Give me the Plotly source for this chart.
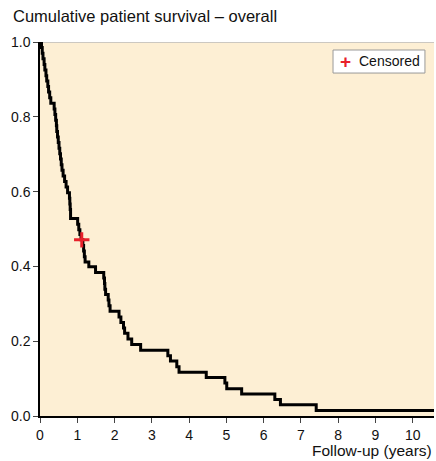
import plotly.graph_objects as go

# Kaplan-Meier step points (years, survival)
time = [0.0, 0.04, 0.06, 0.08, 0.11, 0.13, 0.16, 0.18, 0.21, 0.23, 0.26, 0.29,
        0.38, 0.40, 0.42, 0.44, 0.45, 0.47, 0.49, 0.51, 0.53, 0.55, 0.57, 0.59,
        0.62, 0.66, 0.70, 0.74, 0.79, 0.80, 0.81, 0.82,
        1.01, 1.04, 1.07, 1.10, 1.15, 1.17, 1.19, 1.21, 1.31, 1.49,
        1.71, 1.73, 1.74, 1.76, 1.83, 1.85, 1.88, 2.12, 2.17, 2.24, 2.27,
        2.36, 2.46, 2.70, 3.43, 3.50, 3.67, 3.73, 4.46, 4.96, 5.01, 5.41,
        6.30, 6.45, 7.41, 10.57]
survival = [1.0, 0.985, 0.970, 0.955, 0.940, 0.925, 0.910, 0.896, 0.881, 0.866, 0.851, 0.836,
            0.821, 0.806, 0.791, 0.776, 0.761, 0.746, 0.731, 0.716, 0.701, 0.687, 0.672, 0.657,
            0.642, 0.627, 0.612, 0.597, 0.582, 0.567, 0.552, 0.528,
            0.513, 0.498, 0.485, 0.471, 0.456, 0.441, 0.426, 0.412, 0.399, 0.384,
            0.369, 0.354, 0.339, 0.325, 0.310, 0.295, 0.280, 0.265, 0.250, 0.235, 0.221,
            0.206, 0.191, 0.176, 0.161, 0.147, 0.132, 0.117, 0.103, 0.088, 0.073, 0.059,
            0.044, 0.030, 0.015, 0.015]

censor_time = [1.12]
censor_surv = [0.471]

x_ticks = [0, 1, 2, 3, 4, 5, 6, 7, 8, 9, 10]
y_ticks = [0.0, 0.2, 0.4, 0.6, 0.8, 1.0]
y_tick_labels = ["0.0", "0.2", "0.4", "0.6", "0.8", "1.0"]

FONT = "Liberation Sans, Arial, Helvetica, sans-serif"
RED = "#e8202a"

fig = go.Figure()
fig.add_trace(go.Scatter(
    x=time, y=survival, mode="lines", line=dict(color="black", width=3, shape="hv"),
    showlegend=False, hoverinfo="skip"))
fig.add_trace(go.Scatter(
    x=censor_time, y=censor_surv, mode="markers", name="Censored", showlegend=False,
    marker=dict(symbol="cross-thin", size=11, line=dict(color=RED, width=3), color=RED)))

fig.update_layout(
    width=436, height=461,
    margin=dict(l=40, r=2, t=42, b=45),
    paper_bgcolor="white", plot_bgcolor="#FDEFD4",
    font=dict(family=FONT, size=13, color="#111"),
    xaxis=dict(range=[0, 10.57], tickvals=x_ticks, ticks="outside", ticklen=5,
               tickcolor="#444", showgrid=False, zeroline=False, showline=True,
               linecolor="black", linewidth=1.5, tickfont=dict(size=14, color="#111")),
    yaxis=dict(range=[0, 1.0], tickvals=y_ticks, ticktext=y_tick_labels,
               ticks="outside", ticklen=5, tickcolor="#444", showgrid=False,
               zeroline=False, showline=True, linecolor="black", linewidth=1.5,
               tickfont=dict(size=14, color="#111")),
    shapes=[
        dict(type="line", xref="paper", yref="y", x0=0, x1=1, y0=1.0, y1=1.0,
             line=dict(color="#bbbbbb", width=1.5), layer="below"),
        # legend box
        dict(type="rect", xref="paper", yref="paper", x0=0.7437, x1=0.977,
             y0=0.917, y1=0.9786, fillcolor="white", line=dict(color="#999", width=1)),
    ],
    annotations=[
        dict(text="Cumulative patient survival – overall", xref="paper", yref="paper",
             x=-0.074, y=1.04, xanchor="left", yanchor="bottom", showarrow=False,
             font=dict(size=16.5, color="#111")),
        dict(text="Follow-up (years)", xref="paper", yref="paper",
             x=1.0, y=-0.119, xanchor="right", yanchor="bottom", showarrow=False,
             font=dict(size=15.5, color="#111")),
        dict(text="<b>+</b>", xref="paper", yref="paper", x=0.7742, y=0.948,
             xanchor="center", yanchor="middle", showarrow=False,
             font=dict(size=19, color=RED)),
        dict(text="Censored", xref="paper", yref="paper", x=0.804, y=0.948,
             xanchor="left", yanchor="middle", showarrow=False,
             font=dict(size=14, color="#111")),
    ],
)

fig.write_html("out.html", config={"displayModeBar": False},
               post_script="document.body.style.margin='0px';")
